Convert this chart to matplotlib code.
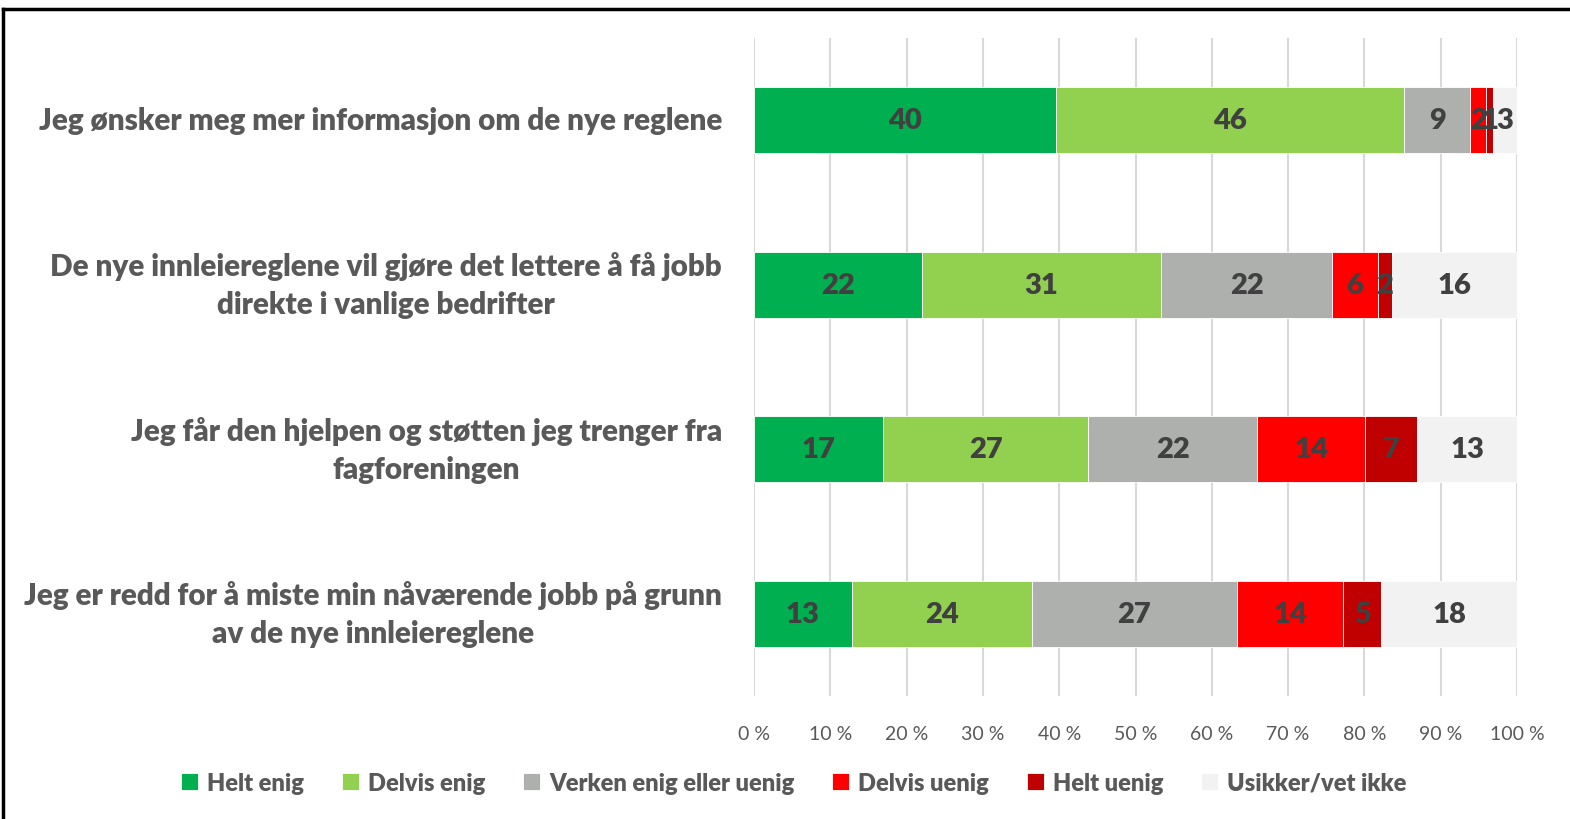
"""
stacked bar chart of attitudes to the new hiring rules
"""

import numpy as np
from matplotlib import pyplot as plt
from matplotlib.lines import Line2D

categories = [
    'Jeg ønsker meg mer informasjon om de nye reglene',
    'De nye innleiereglene vil gjøre det lettere å få jobb\ndirekte i vanlige bedrifter',
    'Jeg får den hjelpen og støtten jeg trenger fra\nfagforeningen',
    'Jeg er redd for å miste min nåværende jobb på grunn\nav de nye innleiereglene',
]

series_names = ['Helt enig', 'Delvis enig', 'Verken enig eller uenig',
                'Delvis uenig', 'Helt uenig', 'Usikker/vet ikke']

helt_enig = [39.6, 22.0, 16.9, 12.8]
delvis_enig = [45.6, 31.4, 26.9, 23.6]
verken = [8.7, 22.3, 22.1, 26.9]
delvis_uenig = [2.1, 6.1, 14.2, 13.9]
helt_uenig = [0.8, 1.8, 6.8, 5.0]
usikker = [3.2, 16.4, 13.1, 17.8]

x_ticks = [0, 10, 20, 30, 40, 50, 60, 70, 80, 90, 100]

colors = ['#00B050', '#92D050', '#ADB0AC', '#FF0000', '#C00000', '#F2F2F2']

plt.rcParams['font.family'] = ['Lato', 'DejaVu Sans']

fig = plt.figure(figsize=(15.7, 8.2), dpi=100)
ax = fig.add_axes([754 / 1570, 123 / 820, 763 / 1570, 658 / 820])

all_series = [helt_enig, delvis_enig, verken, delvis_uenig, helt_uenig, usikker]
y_pos = np.arange(len(categories))
left = np.zeros(len(categories))
for name, vals, col in zip(series_names, all_series, colors):
    vals = np.array(vals)
    bars = ax.barh(y_pos, vals, left=left, height=0.4, color=col,
                   edgecolor='white', linewidth=0.6, label=name)
    ax.bar_label(bars, labels=['%d' % round(v) for v in vals],
                 label_type='center', fontsize=21, fontweight='heavy',
                 color='#404040')
    left += vals

ax.set_xlim(0, 100)
ax.set_ylim(3.5, -0.5)
ax.set_xticks(x_ticks)
ax.set_xticklabels(['%d %%' % t for t in x_ticks])
ax.set_yticks(y_pos)
ax.set_yticklabels(categories, fontsize=21.3, fontweight='heavy',
                   color='#595959', multialignment='center', linespacing=1.42)
for lbl in ax.get_yticklabels():
    lbl.set_verticalalignment('center')
ax.tick_params(axis='x', length=0, pad=21, labelsize=14, labelcolor='#595959')
ax.tick_params(axis='y', length=0, pad=23)
ax.grid(True, axis='x', color='#D9D9D9', linewidth=1.5)
ax.set_axisbelow(True)
for s in ax.spines.values():
    s.set_visible(False)

fig.legend(loc='center', bbox_to_anchor=(794 / 1570, 1 - 784 / 820), ncol=6,
           frameon=False, prop={'size': 17, 'weight': 'heavy'},
           labelcolor='#595959', handlelength=0.7, handleheight=0.7,
           handletextpad=0.4, columnspacing=1.6)

# frame around the picture
fig.add_artist(Line2D([3 / 1570, 1], [1 - 10 / 820, 1 - 10 / 820],
                      color='black', linewidth=2.5, transform=fig.transFigure))
fig.add_artist(Line2D([3 / 1570, 3 / 1570], [0, 1 - 10 / 820],
                      color='black', linewidth=2.5, transform=fig.transFigure))

fig.savefig('out.png')
